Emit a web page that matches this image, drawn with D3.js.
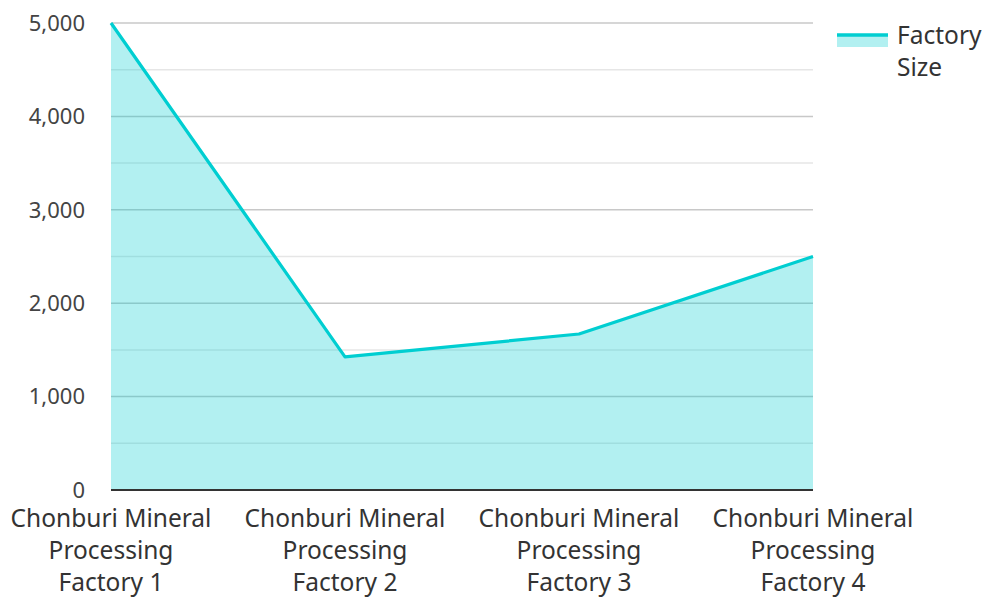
<!DOCTYPE html>
<html><head><meta charset="utf-8">
<script src="https://cdn.jsdelivr.net/npm/d3@7/dist/d3.min.js"></script>
<style>body{margin:0;background:#fff}svg{display:block}text{font-family:"Noto Sans","Open Sans",sans-serif}</style>
</head><body><svg id="c" width="987" height="597"></svg>
<script>
const categories = ["Chonburi Mineral Processing Factory 1","Chonburi Mineral Processing Factory 2","Chonburi Mineral Processing Factory 3","Chonburi Mineral Processing Factory 4"];
const categoryLines = [["Chonburi Mineral","Processing","Factory 1"],["Chonburi Mineral","Processing","Factory 2"],["Chonburi Mineral","Processing","Factory 3"],["Chonburi Mineral","Processing","Factory 4"]];
const factorySize = [5000, 1425, 1670, 2500];
const yTicks = [0,1000,2000,3000,4000,5000];
const yMinor = [500,1500,2500,3500,4500];
const seriesName = ["Factory","Size"];

const svg = d3.select("#c");
const L=111,R=813,T=23,B=490;
const x = d3.scalePoint().domain(categories).range([L,R]);
const y = d3.scaleLinear().domain([0,5000]).range([B,T]);
const lineColor="#00CED1";

svg.append("g").selectAll("line").data(yMinor).join("line")
 .attr("x1",L).attr("x2",R).attr("y1",d=>y(d)).attr("y2",d=>y(d))
 .attr("stroke","#e6e6e6").attr("stroke-width",1.5);
svg.append("g").selectAll("line").data(yTicks.filter(d=>d>0)).join("line")
 .attr("x1",L).attr("x2",R).attr("y1",d=>y(d)).attr("y2",d=>y(d))
 .attr("stroke","#c8c8c8").attr("stroke-width",1.5);

const data = categories.map((c,i)=>({c,v:factorySize[i]}));
svg.append("path").datum(data)
 .attr("d",d3.area().x(d=>x(d.c)).y0(B).y1(d=>y(d.v)))
 .attr("fill",lineColor).attr("fill-opacity",0.3);
svg.append("path").datum(data)
 .attr("d",d3.line().x(d=>x(d.c)).y(d=>y(d.v)))
 .attr("fill","none").attr("stroke",lineColor).attr("stroke-width",3.2).attr("stroke-linejoin","round");

svg.append("line").attr("x1",L).attr("x2",R).attr("y1",B).attr("y2",B).attr("stroke","#333").attr("stroke-width",2);

svg.append("g").selectAll("text").data(yTicks).join("text")
 .attr("x",85).attr("y",d=>y(d)).attr("dy","0.35em").attr("text-anchor","end")
 .attr("font-size",22).attr("fill","#444").text(d=>d3.format(",")(d));

const xl = svg.append("g").selectAll("text").data(categories).join("text")
 .attr("text-anchor","middle").attr("font-size",24.5).attr("fill","#333");
xl.each(function(d,i){
  d3.select(this).selectAll("tspan").data(categoryLines[i]).join("tspan")
   .attr("x",x(d)).attr("y",(t,j)=>527+j*32).text(t=>t);
});

const lg = svg.append("g");
lg.append("rect").attr("x",837).attr("y",35).attr("width",51).attr("height",12).attr("fill",lineColor).attr("fill-opacity",0.3);
lg.append("line").attr("x1",837).attr("x2",888).attr("y1",35).attr("y2",35).attr("stroke",lineColor).attr("stroke-width",3.5);
lg.append("text").attr("font-size",24.5).attr("fill","#333").selectAll("tspan").data(seriesName).join("tspan")
 .attr("x",897).attr("y",(t,j)=>44+j*32).text(t=>t);
</script></body></html>
